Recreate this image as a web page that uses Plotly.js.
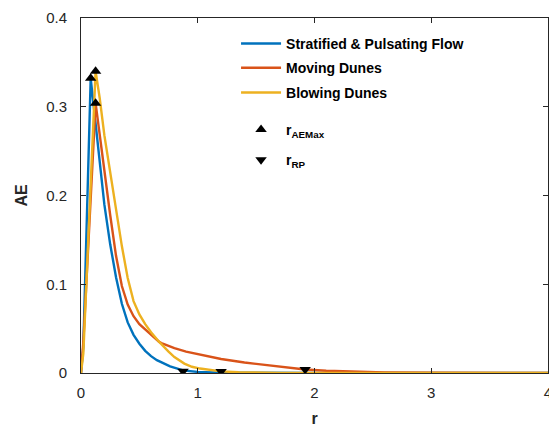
<!DOCTYPE html>
<html>
<head>
<meta charset="utf-8">
<script src="https://cdn.plot.ly/plotly-3.0.1.min.js"></script>
<style>html,body{margin:0;padding:0;background:#fff;}#chart{width:549px;height:428px;}</style>
</head>
<body>
<div id="chart"></div>
<script>
// Stratified & Pulsating Flow
var rBlue  = [0, 0.02, 0.083, 0.12, 0.16, 0.2, 0.25, 0.3, 0.35, 0.4, 0.45, 0.5, 0.55, 0.6, 0.65, 0.7, 0.763, 0.874, 1.0, 1.2, 1.5, 2.0, 3.0, 4.0];
var aeBlue = [0, 0.03, 0.332, 0.285, 0.237, 0.19, 0.145, 0.108, 0.078, 0.057, 0.043, 0.033, 0.025, 0.019, 0.0145, 0.011, 0.0075, 0.003, 0.0012, 0.0004, 0.0001, 0, 0, 0];
// Moving Dunes
var rRed  = [0, 0.02, 0.125, 0.16, 0.2, 0.25, 0.3, 0.35, 0.4, 0.45, 0.5, 0.6, 0.67, 0.7, 0.8, 0.9, 1.0, 1.1, 1.2, 1.4, 1.6, 1.8, 1.92, 2.1, 2.3, 2.6, 3.0, 3.5, 4.0];
var aeRed = [0, 0.035, 0.304, 0.268, 0.228, 0.178, 0.132, 0.098, 0.077, 0.064, 0.055, 0.043, 0.035, 0.033, 0.028, 0.024, 0.021, 0.018, 0.0158, 0.0118, 0.0085, 0.0055, 0.004, 0.0025, 0.0015, 0.0006, 0.0002, 0, 0];
// Blowing Dunes
var rYel  = [0, 0.02, 0.125, 0.16, 0.2, 0.25, 0.3, 0.35, 0.4, 0.45, 0.5, 0.55, 0.6, 0.67, 0.75, 0.8, 0.885, 0.95, 1.02, 1.1, 1.2, 1.35, 1.5, 1.7, 2.0, 3.0, 4.0];
var aeYel = [0, 0.022, 0.34, 0.31, 0.268, 0.226, 0.185, 0.143, 0.107, 0.081, 0.066, 0.055, 0.046, 0.035, 0.024, 0.018, 0.0106, 0.007, 0.005, 0.0032, 0.0018, 0.0008, 0.0003, 0.0001, 0, 0, 0];
// r_AEMax points (blue, red, yellow)
var rMax  = [0.083, 0.125, 0.125];
var aeMax = [0.332, 0.304, 0.34];
// r_RP points (blue, red, yellow)
var rRP  = [0.874, 1.92, 1.2];
var aeRP = [0.002, 0.004, 0.0018];

var names = ['Stratified & Pulsating Flow', 'Moving Dunes', 'Blowing Dunes', 'r<sub>AEMax</sub>', 'r<sub>RP</sub>'];
var colors = ['#0072BD', '#D95319', '#EDB120'];
var xTicks = [0, 1, 2, 3, 4];
var yTicks = [0, 0.1, 0.2, 0.3, 0.4];
var yTickText = ['0', '0.1', '0.2', '0.3', '0.4'];

var font = 'Liberation Sans, Arial, Helvetica, sans-serif';
var ink = '#262626';

var traces = [
  {x: rBlue, y: aeBlue, name: names[0], mode: 'lines', line: {color: colors[0], width: 2.4}, legend: 'legend'},
  {x: rRed, y: aeRed, name: names[1], mode: 'lines', line: {color: colors[1], width: 2.4}, legend: 'legend2'},
  {x: rYel, y: aeYel, name: names[2], mode: 'lines', line: {color: colors[2], width: 2.4}, legend: 'legend3'},
  {x: rMax, y: aeMax, name: names[3], mode: 'markers', marker: {symbol: 'triangle-up', size: 10, color: '#000'}, legend: 'legend4'},
  {x: rRP, y: aeRP, name: names[4], mode: 'markers', marker: {symbol: 'triangle-down', size: 10, color: '#000'}, legend: 'legend5'}
];

function leg(y) {
  return {
    x: 0.332, y: y, xanchor: 'left', yanchor: 'top',
    bgcolor: 'rgba(0,0,0,0)', borderwidth: 0,
    font: {family: font, size: 14, color: '#000', weight: 'bold'},
    itemwidth: 40
  };
}

var axisCommon = {
  showgrid: false, zeroline: false, showline: true, linecolor: ink, linewidth: 1,
  mirror: 'ticks', ticks: 'inside', ticklen: 5, tickwidth: 1, tickcolor: ink,
  tickfont: {family: font, size: 15, color: ink},
  ticklabeloverflow: 'allow'
};

var layout = {
  width: 549, height: 428,
  margin: {l: 81, r: 1, t: 18, b: 55, pad: 0},
  paper_bgcolor: '#fff', plot_bgcolor: '#fff',
  showlegend: true,
  legend: leg(0.972),
  legend2: leg(0.904),
  legend3: leg(0.834),
  legend4: leg(0.73),
  legend5: leg(0.645),
  xaxis: Object.assign({}, axisCommon, {
    range: [0, 4], tickvals: xTicks, ticktext: xTicks.map(String),
    ticklabelstandoff: 6,
    title: {text: 'r', font: {family: font, size: 16, color: ink, weight: 'bold'}, standoff: 12}
  }),
  yaxis: Object.assign({}, axisCommon, {
    range: [0, 0.4], tickvals: yTicks, ticktext: yTickText,
    ticklabelstandoff: 10,
    title: {text: 'AE', font: {family: font, size: 16, color: ink, weight: 'bold'}, standoff: 14}
  })
};

Plotly.newPlot('chart', traces, layout, {displayModeBar: false, staticPlot: true});
</script>
</body>
</html>
